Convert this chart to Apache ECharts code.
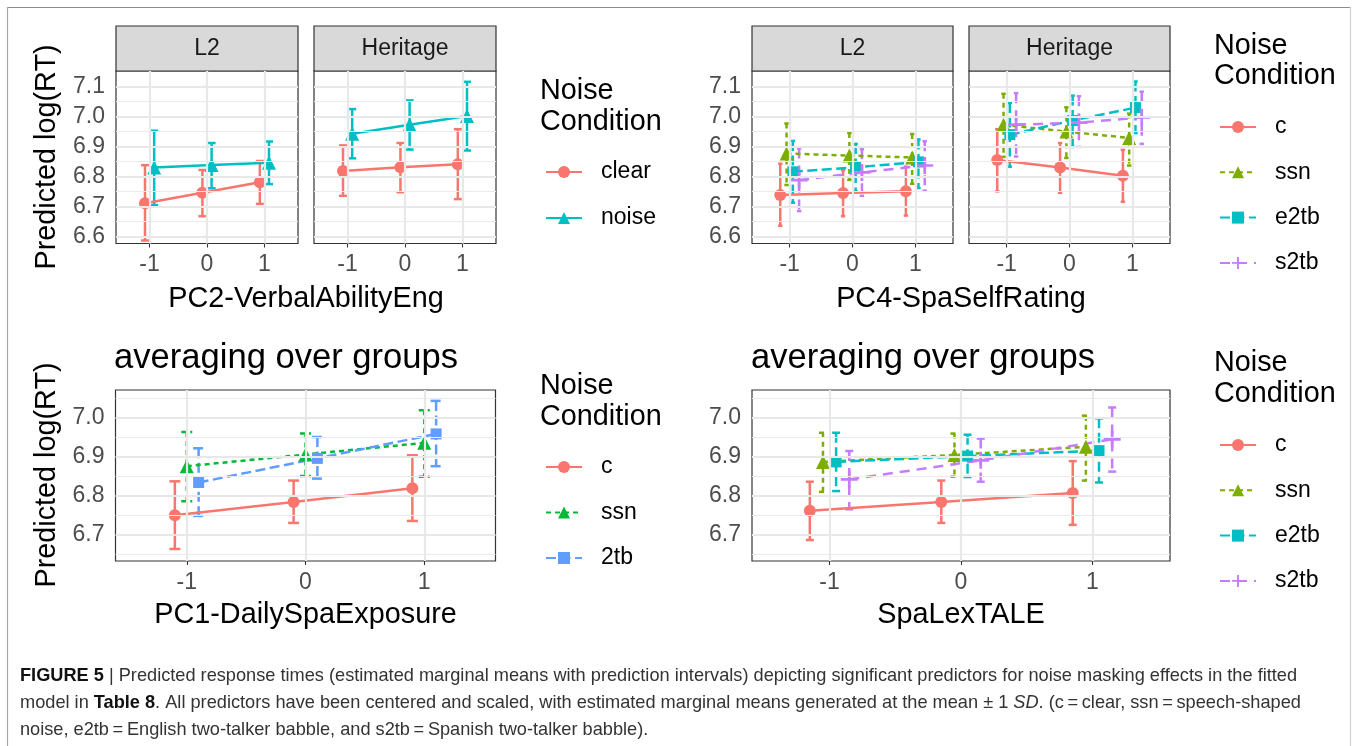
<!DOCTYPE html>
<html><head><meta charset="utf-8">
<script src="https://cdn.jsdelivr.net/npm/echarts@6/dist/echarts.min.js"></script>
<style>html,body{margin:0;padding:0;background:#fff}#c{width:1354px;height:746px}</style>
</head><body><div id="c"></div>
<script>
// ---------------- data ----------------
const xLevels = [-1, 0, 1];
const yMajorTop = [6.6, 6.7, 6.8, 6.9, 7.0, 7.1];
const yMinorTop = [6.65, 6.75, 6.85, 6.95, 7.05];
const yMajorBottom = [6.7, 6.8, 6.9, 7.0];
const yMinorBottom = [6.65, 6.75, 6.85, 6.95, 7.05];

// each entry: [lower, mean, upper] at x = -1, 0, 1
const pc2L2Clear  = [[6.587, 6.711, 6.838], [6.668, 6.746, 6.822], [6.709, 6.781, 6.852]];
const pc2L2Noise  = [[6.705, 6.830, 6.953], [6.761, 6.839, 6.912], [6.775, 6.846, 6.917]];
const pc2HerClear = [[6.736, 6.819, 6.904], [6.748, 6.831, 6.912], [6.725, 6.841, 6.958]];
const pc2HerNoise = [[6.861, 6.943, 7.025], [6.890, 6.973, 7.054], [6.887, 7.002, 7.116]];

const pc4L2C     = [[6.636, 6.739, 6.843], [6.668, 6.745, 6.822], [6.670, 6.751, 6.833]];
const pc4L2Ssn   = [[6.772, 6.877, 6.977], [6.789, 6.870, 6.945], [6.776, 6.864, 6.942]];
const pc4L2E2tb  = [[6.713, 6.816, 6.919], [6.751, 6.831, 6.909], [6.762, 6.849, 6.924]];
const pc4L2S2tb  = [[6.685, 6.788, 6.894], [6.736, 6.814, 6.891], [6.753, 6.837, 6.918]];
const pc4HerC    = [[6.751, 6.855, 6.958], [6.746, 6.830, 6.912], [6.716, 6.803, 6.889]];
const pc4HerSsn  = [[6.866, 6.973, 7.076], [6.862, 6.950, 7.031], [6.837, 6.929, 7.010]];
const pc4HerE2tb = [[6.833, 6.940, 7.045], [6.899, 6.987, 7.070], [6.945, 7.030, 7.117]];
const pc4HerS2tb = [[6.867, 6.973, 7.078], [6.899, 6.980, 7.068], [6.909, 6.997, 7.083]];

const pc1C     = [[6.663, 6.750, 6.837], [6.730, 6.784, 6.839], [6.735, 6.819, 6.904]];
const pc1Ssn   = [[6.786, 6.876, 6.964], [6.851, 6.906, 6.960], [6.849, 6.936, 7.020]];
const pc1Twotb = [[6.748, 6.834, 6.922], [6.844, 6.896, 6.951], [6.876, 6.959, 7.044]];

const lexC    = [[6.686, 6.761, 6.836], [6.730, 6.784, 6.839], [6.725, 6.807, 6.889]];
const lexSsn  = [[6.810, 6.887, 6.962], [6.849, 6.905, 6.960], [6.839, 6.926, 7.006]];
const lexE2tb = [[6.812, 6.887, 6.962], [6.848, 6.902, 6.957], [6.834, 6.916, 6.999]];
const lexS2tb = [[6.765, 6.842, 6.915], [6.836, 6.891, 6.947], [6.862, 6.945, 7.027]];

// ---------------- styles ----------------
const FONT = "'Liberation Sans', Arial, Helvetica, sans-serif";
const PLUS = 'path://M4.2,0L5.8,0L5.8,4.2L10,4.2L10,5.8L5.8,5.8L5.8,10L4.2,10L4.2,5.8L0,5.8L0,4.2L4.2,4.2Z';
const LW = 2.5;
const ST = {
  clear: {color: '#F8766D', symbol: 'circle', size: 12, dash: null},
  noise: {color: '#00BFC4', symbol: 'triangle', size: 14, dash: null},
  c:     {color: '#F8766D', symbol: 'circle', size: 12, dash: null},
  ssn4:  {color: '#7CAE00', symbol: 'triangle', size: 14, dash: [5, 4]},
  e2tb:  {color: '#00BFC4', symbol: 'rect', size: 11, dash: [10, 4.5]},
  s2tb:  {color: '#C77CFF', symbol: PLUS, size: 17, dash: [10, 7]},
  ssn3:  {color: '#00BA38', symbol: 'triangle', size: 14, dash: [5, 4]},
  tb3:   {color: '#619CFF', symbol: 'rect', size: 11, dash: [10, 4.5]}
};
const off4 = [-0.15, -0.05, 0.05, 0.15];
const YT = [6.577, 7.152], YB = [6.632, 7.072];

const panels = [
  {rect: [116, 71, 182, 172.5], xr: [-1.585, 1.585], yr: YT, yLab: true, major: yMajorTop, minor: yMinorTop, cap: 4,
   groups: [{name: 'tl:clear', data: pc2L2Clear, st: 'clear', off: -0.08}, {name: 'tl:noise', data: pc2L2Noise, st: 'noise', off: 0.08}]},
  {rect: [314, 71, 182, 172.5], xr: [-1.585, 1.585], yr: YT, yLab: false, major: yMajorTop, minor: yMinorTop, cap: 4,
   groups: [{name: 'tl:clear', data: pc2HerClear, st: 'clear', off: -0.08}, {name: 'tl:noise', data: pc2HerNoise, st: 'noise', off: 0.08}]},
  {rect: [752, 71, 201, 172.5], xr: [-1.6, 1.6], yr: YT, yLab: true, major: yMajorTop, minor: yMinorTop, cap: 2.2,
   groups: [{name: 'tr:c', data: pc4L2C, st: 'c', off: off4[0]}, {name: 'tr:ssn', data: pc4L2Ssn, st: 'ssn4', off: off4[1]},
            {name: 'tr:e2tb', data: pc4L2E2tb, st: 'e2tb', off: off4[2]}, {name: 'tr:s2tb', data: pc4L2S2tb, st: 's2tb', off: off4[3]}]},
  {rect: [969, 71, 201, 172.5], xr: [-1.6, 1.6], yr: YT, yLab: false, major: yMajorTop, minor: yMinorTop, cap: 2.2,
   groups: [{name: 'tr:c', data: pc4HerC, st: 'c', off: off4[0]}, {name: 'tr:ssn', data: pc4HerSsn, st: 'ssn4', off: off4[1]},
            {name: 'tr:e2tb', data: pc4HerE2tb, st: 'e2tb', off: off4[2]}, {name: 'tr:s2tb', data: pc4HerS2tb, st: 's2tb', off: off4[3]}]},
  {rect: [115.5, 390, 380, 171], xr: [-1.6, 1.6], yr: YB, yLab: true, major: yMajorBottom, minor: yMinorBottom, cap: 5.5,
   groups: [{name: 'bl:c', data: pc1C, st: 'c', off: -0.1}, {name: 'bl:ssn', data: pc1Ssn, st: 'ssn3', off: 0},
            {name: 'bl:2tb', data: pc1Twotb, st: 'tb3', off: 0.1}]},
  {rect: [752, 390, 418, 171], xr: [-1.59, 1.59], yr: YB, yLab: true, major: yMajorBottom, minor: yMinorBottom, cap: 4,
   groups: [{name: 'br:c', data: lexC, st: 'c', off: off4[0]}, {name: 'br:ssn', data: lexSsn, st: 'ssn4', off: off4[1]},
            {name: 'br:e2tb', data: lexE2tb, st: 'e2tb', off: off4[2]}, {name: 'br:s2tb', data: lexS2tb, st: 's2tb', off: off4[3]}]}
];

const grid = [], xAxis = [], yAxis = [], series = [];
panels.forEach((p, i) => {
  grid.push({left: p.rect[0], top: p.rect[1], width: p.rect[2], height: p.rect[3], show: true,
             backgroundColor: '#fff', borderColor: '#333333', borderWidth: 1.2, containLabel: false});
  xAxis.push({type: 'value', gridIndex: i, min: p.xr[0], max: p.xr[1],
    axisLine: {show: false}, splitLine: {show: false},
    axisTick: {show: true, customValues: xLevels, length: 4, lineStyle: {color: '#333', width: 1.1}},
    axisLabel: {customValues: xLevels, margin: 10, fontSize: 23, color: '#4d4d4d', fontFamily: FONT}});
  yAxis.push({type: 'value', gridIndex: i, min: p.yr[0], max: p.yr[1],
    axisLine: {show: false}, splitLine: {show: false},
    axisTick: {show: p.yLab, customValues: p.major, length: 4, lineStyle: {color: '#333', width: 1.1}},
    axisLabel: {show: p.yLab, customValues: p.major, margin: 11, fontSize: 23, color: '#4d4d4d', fontFamily: FONT,
                formatter: v => Number(v).toFixed(1)}});
  // gridlines
  const ml = [];
  p.minor.forEach(v => ml.push({yAxis: v, lineStyle: {color: '#ebebeb', width: 1.1, type: 'solid'}}));
  p.major.forEach(v => ml.push({yAxis: v, lineStyle: {color: '#e8e8e8', width: 2.2, type: 'solid'}}));
  xLevels.forEach(v => ml.push({xAxis: v, lineStyle: {color: '#e8e8e8', width: 2.2, type: 'solid'}}));
  series.push({type: 'line', name: 'grid' + i, xAxisIndex: i, yAxisIndex: i, data: [], z: 1, silent: true,
    markLine: {silent: true, symbol: ['none', 'none'], label: {show: false}, animation: false, data: ml}});
  p.groups.forEach(g => {
    const s = ST[g.st];
    const ebData = g.data.map((d, k) => [xLevels[k] + g.off, d[0], d[2]]);
    const ptData = g.data.map((d, k) => [xLevels[k] + g.off, d[1]]);
    const cap = p.cap;
    series.push({type: 'custom', name: g.name + ':eb', xAxisIndex: i, yAxisIndex: i, z: 2, silent: true,
      data: ebData, encode: {x: 0, y: [1, 2]},
      renderItem: (params, api) => {
        const x = api.value(0), lo = api.value(1), hi = api.value(2);
        const a = api.coord([x, hi]), b = api.coord([x, lo]);
        const style = {stroke: s.color, lineWidth: LW, lineDash: s.dash, fill: null};
        return {type: 'group', children: [
          {type: 'line', shape: {x1: a[0] - cap, y1: a[1], x2: a[0] + cap, y2: a[1]}, style},
          {type: 'line', shape: {x1: a[0], y1: a[1], x2: b[0], y2: b[1]}, style},
          {type: 'line', shape: {x1: b[0] - cap, y1: b[1], x2: b[0] + cap, y2: b[1]}, style}
        ]};
      }});
    series.push({type: 'line', name: g.name, xAxisIndex: i, yAxisIndex: i, z: 3, data: ptData,
      symbol: s.symbol, symbolSize: s.size, showSymbol: true,
      lineStyle: {color: s.color, width: LW, type: s.dash ? s.dash : 'solid'},
      itemStyle: {color: s.color, borderWidth: 0}});
  });
});

function legendAt(names, left, firstCenter, spacing) {
  return {orient: 'vertical', left: left, top: firstCenter - 11.5, padding: 0, itemGap: spacing - 23,
    itemWidth: 36, itemHeight: 15, selectedMode: false, data: names,
    formatter: n => n.split(':')[1],
    textStyle: {fontSize: 23, color: '#000', fontFamily: FONT, padding: [0, 0, 0, 14]}};
}
const legend = [
  legendAt(['tl:clear', 'tl:noise'], 545, 172, 46),
  legendAt(['tr:c', 'tr:ssn', 'tr:e2tb', 'tr:s2tb'], 1219, 127, 45.3),
  legendAt(['bl:c', 'bl:ssn', 'bl:2tb'], 545, 467, 45.5),
  legendAt(['br:c', 'br:ssn', 'br:e2tb', 'br:s2tb'], 1219, 445, 45.3)
];

function txt(x, y, text, size, opts) {
  return Object.assign({type: 'text', x: x, y: y, silent: true,
    style: Object.assign({text: text, fontSize: size, fontFamily: FONT, fill: '#000', textAlign: 'center', textVerticalAlign: 'middle'}, (opts && opts.style) || {})},
    (opts && opts.el) || {});
}
function strip(x, w, label) {
  return [{type: 'rect', shape: {x: x, y: 26, width: w, height: 45}, style: {fill: '#d9d9d9', stroke: '#333333', lineWidth: 1.2}, silent: true},
          txt(x + w / 2, 48.5, label, 23, {style: {fill: '#1a1a1a'}})];
}
const CF = 18.2;
const capStyle = {fontSize: CF, fontFamily: FONT, fill: '#333333'};
const rich = {b: {fontWeight: 'bold', fill: '#111111', fontSize: CF, fontFamily: FONT},
              n: {fill: '#333333', fontSize: CF, fontFamily: FONT},
              i: {fontStyle: 'italic', fill: '#333333', fontSize: CF, fontFamily: FONT}};
const graphic = [
  {type: 'line', shape: {x1: 7, y1: 7.5, x2: 1351, y2: 7.5}, style: {stroke: '#8c8c8c', lineWidth: 1.2}, silent: true},
  {type: 'line', shape: {x1: 7.5, y1: 7, x2: 7.5, y2: 746}, style: {stroke: '#a6a6a6', lineWidth: 1.2}, silent: true},
  {type: 'line', shape: {x1: 1350.5, y1: 7, x2: 1350.5, y2: 746}, style: {stroke: '#d0d0d0', lineWidth: 1.2}, silent: true},
  ...strip(116, 182, 'L2'), ...strip(314, 182, 'Heritage'),
  ...strip(752, 201, 'L2'), ...strip(969, 201, 'Heritage'),
  txt(47, 157, 'Predicted log(RT)', 28.8, {el: {rotation: Math.PI / 2}}),
  txt(47, 475, 'Predicted log(RT)', 28.8, {el: {rotation: Math.PI / 2}}),
  txt(306, 299, 'PC2-VerbalAbilityEng', 28.8),
  txt(961, 299, 'PC4-SpaSelfRating', 28.8),
  txt(305.5, 615, 'PC1-DailySpaExposure', 28.8),
  txt(961, 615, 'SpaLexTALE', 28.8),
  txt(114, 358, 'averaging over groups', 34.6, {style: {textAlign: 'left'}}),
  txt(751, 358, 'averaging over groups', 34.6, {style: {textAlign: 'left'}}),
  txt(540, 91, 'Noise', 28.8, {style: {textAlign: 'left'}}), txt(540, 122, 'Condition', 28.8, {style: {textAlign: 'left'}}),
  txt(1214, 46, 'Noise', 28.8, {style: {textAlign: 'left'}}), txt(1214, 76, 'Condition', 28.8, {style: {textAlign: 'left'}}),
  txt(540, 386, 'Noise', 28.8, {style: {textAlign: 'left'}}), txt(540, 417, 'Condition', 28.8, {style: {textAlign: 'left'}}),
  txt(1214, 363, 'Noise', 28.8, {style: {textAlign: 'left'}}), txt(1214, 394, 'Condition', 28.8, {style: {textAlign: 'left'}}),
  {type: 'text', x: 20, y: 676, silent: true, style: Object.assign({}, capStyle, {textVerticalAlign: 'middle',
    text: '{b|FIGURE 5}{n| | Predicted response times (estimated marginal means with prediction intervals) depicting significant predictors for noise masking effects in the fitted}',
    rich})},
  {type: 'text', x: 20, y: 703, silent: true, style: Object.assign({}, capStyle, {textVerticalAlign: 'middle',
    text: '{n|model in }{b|Table 8}{n|. All predictors have been centered and scaled, with estimated marginal means generated at the mean \u00b1 1 }{i|SD}{n|. (c\u2009=\u2009clear, ssn\u2009=\u2009speech-shaped}',
    rich})},
  {type: 'text', x: 20, y: 730, silent: true, style: Object.assign({}, capStyle, {textVerticalAlign: 'middle',
    text: 'noise, e2tb\u2009=\u2009English two-talker babble, and s2tb\u2009=\u2009Spanish two-talker babble).'})}
];

const chart = echarts.init(document.getElementById('c'), null, {renderer: 'canvas'});
chart.setOption({animation: false, backgroundColor: '#fff', grid, xAxis, yAxis, series, legend, graphic});
</script></body></html>
